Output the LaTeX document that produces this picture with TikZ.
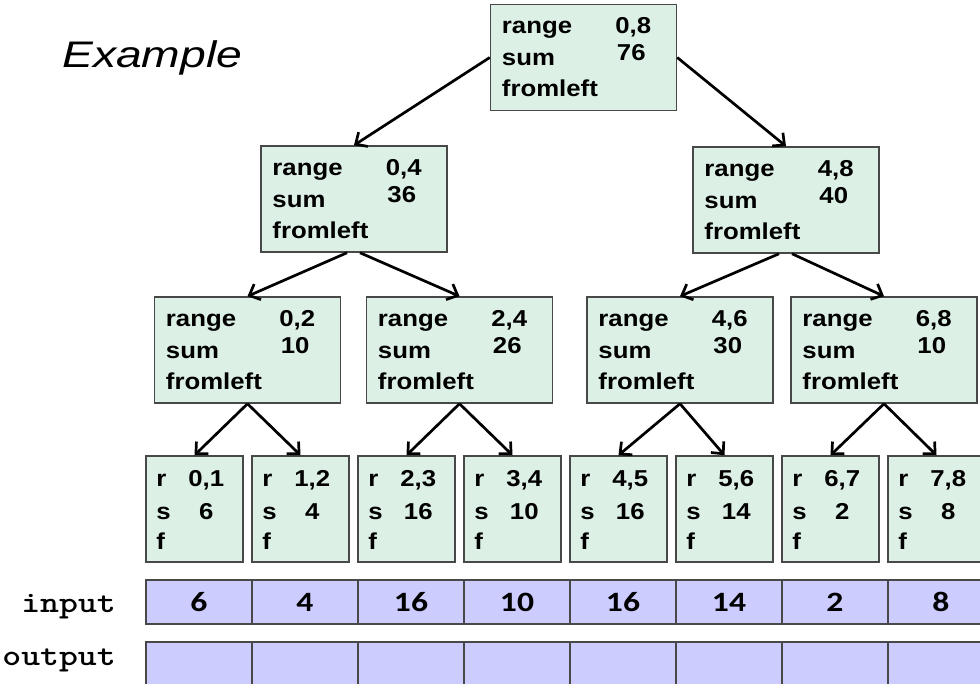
\documentclass[tikz,border=0pt]{standalone}
\usepackage{fontspec}
\setmainfont{Liberation Sans}
\newfontfamily\boxfont[FakeStretch=1.12]{Liberation Sans}
\newfontfamily\cellfont[FakeStretch=1.2]{Carlito}
\newfontfamily\titlefont[FakeStretch=1.25]{Liberation Sans}
\usetikzlibrary{arrows.meta}
\definecolor{nodegreen}{RGB}{221,240,229}
\definecolor{arraylilac}{RGB}{204,204,255}
\definecolor{edgegray}{RGB}{72,72,72}

% one inner node of the tree: name, x, y, range, sum
\newcommand{\treebox}[5]{%
  \node[tree_box] (#1) at (#2,#3) {};
  \node[box_text] (#1-r) at ([xshift=12pt,yshift=-30pt]#1.north west) {range};
  \node[box_text] (#1-s) at ([xshift=12pt,yshift=-62pt]#1.north west) {sum};
  \node[box_text] (#1-f) at ([xshift=12pt,yshift=-93pt]#1.north west) {fromleft};
  \node[box_value] (#1-rv) at ([xshift=-44pt,yshift=-30pt]#1.north east) {#4};
  \node[box_value] (#1-sv) at ([xshift=-46pt,yshift=-57pt]#1.north east) {#5};
}
% one leaf: name, x, range, sum
\newcommand{\leafbox}[4]{%
  \node[leaf_box] (#1) at (#2,509) {};
  \node[box_text] (#1-r) at ([xshift=11pt,yshift=-31pt]#1.north west) {r};
  \node[box_text] (#1-s) at ([xshift=11pt,yshift=-64pt]#1.north west) {s};
  \node[box_text] (#1-f) at ([xshift=11pt,yshift=-94pt]#1.north west) {f};
  \node[box_value] (#1-rv) at ([xshift=61pt,yshift=-31pt]#1.north west) {#3};
  \node[box_value] (#1-sv) at ([xshift=61pt,yshift=-64pt]#1.north west) {#4};
}

\begin{document}
\begin{tikzpicture}[x=1pt, y=-1pt]
    \tikzstyle{tree_box} = [draw=edgegray, fill=nodegreen, line width=1.5pt, minimum width=186pt, minimum height=106pt, inner sep=0pt]
    \tikzstyle{leaf_box} = [tree_box, minimum width=97pt]
    \tikzstyle{box_text} = [inner sep=0pt, anchor=base west, font=\boxfont\bfseries\fontsize{23}{23}\selectfont]
    \tikzstyle{box_value} = [inner sep=0pt, anchor=base, font=\boxfont\bfseries\fontsize{23}{23}\selectfont]
    \tikzstyle{tree_arrow} = [-{Straight Barb[length=9pt, width=17pt]}, line width=2.7pt, black]
    \tikzstyle{array_cell} = [draw=edgegray, fill=arraylilac, line width=1.5pt, minimum width=106pt, minimum height=44pt, inner sep=0pt, font=\cellfont\bfseries\fontsize{28}{28}\selectfont]
    \tikzstyle{row_label} = [inner sep=0pt, anchor=base east]

    \useasboundingbox (0,0) rectangle (980,683);

    \node[anchor=base west, inner sep=0pt] (title) at (62,67) {\titlefont\itshape\fontsize{37}{37}\selectfont Example};

    \treebox{n08}{583.5}{57.5}{0,8}{76}
    \treebox{n04}{354}{199}{0,4}{36}
    \treebox{n48}{786}{200}{4,8}{40}
    \treebox{n02}{247.5}{350}{0,2}{10}
    \treebox{n24}{459.5}{350}{2,4}{26}
    \treebox{n46}{680}{350}{4,6}{30}
    \treebox{n68}{884}{350}{6,8}{10}

    \leafbox{l01}{194.5}{0,1}{6}
    \leafbox{l12}{300.5}{1,2}{4}
    \leafbox{l23}{406.5}{2,3}{16}
    \leafbox{l34}{512.5}{3,4}{10}
    \leafbox{l45}{618.5}{4,5}{16}
    \leafbox{l56}{724.5}{5,6}{14}
    \leafbox{l67}{830.5}{6,7}{2}
    \leafbox{l78}{936.5}{7,8}{8}

    \draw[tree_arrow] (n08.west) -- (n04.north);
    \draw[tree_arrow] (n08.east) -- (n48.north);
    \draw[tree_arrow] ([xshift=-7pt]n04.south) -- (n02.north);
    \draw[tree_arrow] ([xshift=6pt]n04.south) -- (n24.north);
    \draw[tree_arrow] ([xshift=-7pt]n48.south) -- (n46.north);
    \draw[tree_arrow] ([xshift=6pt]n48.south) -- (n68.north);
    \draw[tree_arrow] (n02.south) -- (l01.north);
    \draw[tree_arrow] (n02.south) -- (l12.north);
    \draw[tree_arrow] (n24.south) -- (l23.north);
    \draw[tree_arrow] (n24.south) -- (l34.north);
    \draw[tree_arrow] (n46.south) -- (l45.north);
    \draw[tree_arrow] (n46.south) -- (l56.north);
    \draw[tree_arrow] (n68.south) -- (l67.north);
    \draw[tree_arrow] (n68.south) -- (l78.north);

    \foreach \v [count=\i] in {6,4,16,10,16,14,2,8}
        \node[array_cell] (in\i) at (93+106*\i,602) {\v};
    \foreach \i in {1,...,8}
        \node[array_cell] (out\i) at (93+106*\i,664) {};

    \node[row_label] (input_label) at (116,612) {\scalebox{1.2}[1]{\ttfamily\bfseries\fontsize{30}{30}\selectfont input}};
    \node[row_label] (output_label) at (116,665) {\scalebox{1.2}[1]{\ttfamily\bfseries\fontsize{30}{30}\selectfont output}};
\end{tikzpicture}
\end{document}
